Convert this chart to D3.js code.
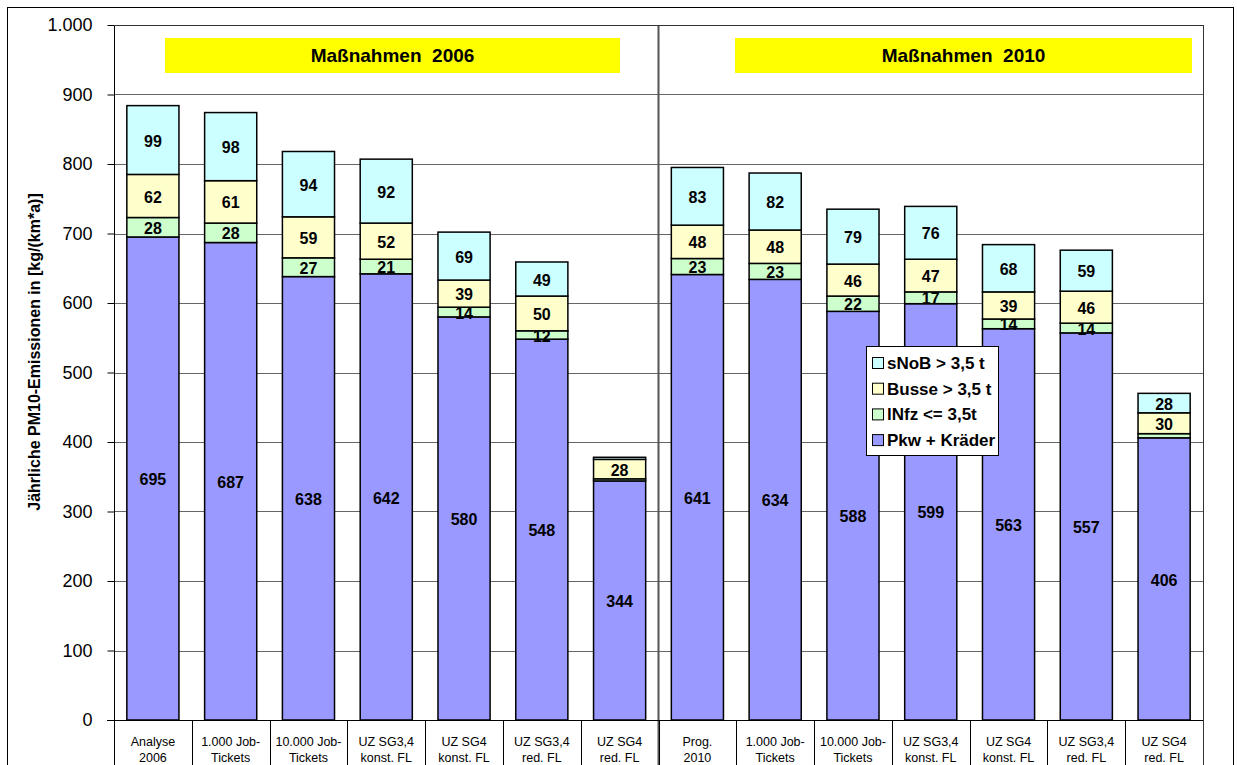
<!DOCTYPE html>
<html><head><meta charset="utf-8">
<script src="https://cdn.jsdelivr.net/npm/d3@7"></script>
<style>
body{margin:0;background:#fff}
svg{display:block}
text{font-family:Arial,"Liberation Sans",sans-serif}
</style>
</head><body>
<svg id="chart" width="1237" height="765"></svg>
<script>
// Categories (two label lines each)
const categories = [
  ["Analyse","2006"],["1.000 Job-","Tickets"],["10.000 Job-","Tickets"],["UZ SG3,4","konst. FL"],
  ["UZ SG4","konst. FL"],["UZ SG3,4","red. FL"],["UZ SG4","red. FL"],
  ["Prog.","2010"],["1.000 Job-","Tickets"],["10.000 Job-","Tickets"],["UZ SG3,4","konst. FL"],
  ["UZ SG4","konst. FL"],["UZ SG3,4","red. FL"],["UZ SG4","red. FL"]
];
// PM10 emissions by vehicle group, kg/(km*a)
const pkw   = [695, 687, 638, 642, 580, 548, 344, 641, 634, 588, 599, 563, 557, 406];
const lnfz  = [ 28,  28,  27,  21,  14,  12,   3,  23,  23,  22,  17,  14,  14,   6];
const busse = [ 62,  61,  59,  52,  39,  50,  28,  48,  48,  46,  47,  39,  46,  30];
const snob  = [ 99,  98,  94,  92,  69,  49,   3,  83,  82,  79,  76,  68,  59,  28];
const seriesNames = ["Pkw + Kräder", "lNfz <= 3,5t", "Busse > 3,5 t", "sNoB > 3,5 t"];
const seriesColors = ["#9999FF", "#CCFFCC", "#FFFFCC", "#CCFFFF"];
const yTicks = [0, 100, 200, 300, 400, 500, 600, 700, 800, 900, 1000];
const groupTitles = ["Maßnahmen  2006", "Maßnahmen  2010"];
const yTitle = "Jährliche PM10-Emissionen in [kg/(km*a)]";

const svg = d3.select("#chart");
const L = 114, R = 1203, T = 25, B = 720;

const de = d3.formatLocale({decimal: ",", thousands: ".", grouping: [3], currency: ["", " €"]});
const fmt = de.format(",d");

const keys = ["pkw", "lnfz", "busse", "snob"];
const rows = categories.map((c, i) => ({i, pkw: pkw[i], lnfz: lnfz[i], busse: busse[i], snob: snob[i]}));
const stacked = d3.stack().keys(keys)(rows);

const x = d3.scaleBand().domain(d3.range(categories.length)).range([L, R]).paddingInner(0.33).paddingOuter(0.165);
const y = d3.scaleLinear().domain([0, 1000]).range([B, T]);
const step = x.step();

// outer frame
svg.append("rect").attr("x", 7.5).attr("y", 7.5).attr("width", 1226).attr("height", 800)
  .attr("fill", "none").attr("stroke", "#000").attr("stroke-width", 1);

// gridlines
svg.append("g").selectAll("line").data(yTicks.filter(d => d > 0)).join("line")
  .attr("x1", L).attr("x2", R).attr("y1", d => Math.round(y(d)) + 0.5).attr("y2", d => Math.round(y(d)) + 0.5)
  .attr("stroke", "#666").attr("stroke-width", 1);

// right plot border and group divider
svg.append("line").attr("x1", R + 0.5).attr("x2", R + 0.5).attr("y1", T).attr("y2", 765)
  .attr("stroke", "#333").attr("stroke-width", 1);
const divX = L + step * 7;
svg.append("line").attr("x1", divX).attr("x2", divX).attr("y1", T).attr("y2", 765)
  .attr("stroke", "#555").attr("stroke-width", 2);

// group title boxes
const titleBoxes = [[165, 620], [735, 1192]];
groupTitles.forEach((t, k) => {
  const [x0, x1] = titleBoxes[k];
  svg.append("rect").attr("x", x0).attr("y", 38).attr("width", x1 - x0).attr("height", 35).attr("fill", "#FFFF00");
  svg.append("text").attr("x", (x0 + x1) / 2).attr("y", 55.5).attr("dy", "0.35em")
    .attr("text-anchor", "middle").attr("font-weight", "bold").attr("font-size", 19)
    .style("white-space", "pre").text(t);
});

// stacked bars
const layers = svg.append("g").selectAll("g").data(stacked).join("g")
  .attr("fill", (d, k) => seriesColors[k]);
layers.selectAll("rect").data(d => d).join("rect")
  .attr("x", d => x(d.data.i)).attr("width", x.bandwidth())
  .attr("y", d => y(d[1])).attr("height", d => y(d[0]) - y(d[1]))
  .attr("stroke", "#000").attr("stroke-width", 1.5);

// value labels
layers.selectAll("text").data(d => d.filter(s => s[1] - s[0] >= 10)).join("text")
  .attr("x", d => x(d.data.i) + x.bandwidth() / 2)
  .attr("y", d => (y(d[0]) + y(d[1])) / 2 + 1).attr("dy", "0.35em")
  .attr("text-anchor", "middle").attr("font-weight", "bold").attr("font-size", 16).attr("fill", "#000")
  .text(d => d[1] - d[0]);

// y axis
const yAxis = d3.axisLeft(y).tickValues(yTicks).tickFormat(fmt).tickSize(7).tickPadding(15);
const gy = svg.append("g").attr("transform", `translate(${L + 0.5},0)`).call(yAxis);
gy.select(".domain").remove();
gy.selectAll(".tick line").attr("stroke", "#000");
gy.selectAll(".tick text").attr("font-size", 18).attr("font-family", "Arial, Liberation Sans, sans-serif").attr("fill", "#000");
svg.append("line").attr("x1", L + 0.5).attr("x2", L + 0.5).attr("y1", T).attr("y2", 765).attr("stroke", "#000");
svg.append("line").attr("x1", L).attr("x2", R).attr("y1", T + 0.5).attr("y2", T + 0.5).attr("stroke", "#333");

// x axis with category separators
svg.append("line").attr("x1", L - 7).attr("x2", R).attr("y1", B + 0.5).attr("y2", B + 0.5).attr("stroke", "#000").attr("stroke-width", 1.2);
svg.append("g").selectAll("line").data(d3.range(1, categories.length)).join("line")
  .attr("x1", i => Math.round(L + step * i) + 0.5).attr("x2", i => Math.round(L + step * i) + 0.5)
  .attr("y1", B).attr("y2", 765).attr("stroke", "#000");
const xl = svg.append("g").selectAll("text").data(categories).join("text")
  .attr("x", (d, i) => x(i) + x.bandwidth() / 2).attr("text-anchor", "middle")
  .attr("font-size", 12.5).attr("fill", "#000");
xl.append("tspan").attr("x", (d, i) => x(i) + x.bandwidth() / 2).attr("y", 746).text(d => d[0]);
xl.append("tspan").attr("x", (d, i) => x(i) + x.bandwidth() / 2).attr("y", 762).text(d => d[1]);

// y axis title
svg.append("text").attr("transform", "translate(34,352) rotate(-90)").attr("dy", "0.35em")
  .attr("text-anchor", "middle").attr("font-weight", "bold").attr("font-size", 16).text(yTitle);

// legend (top series first)
const lg = svg.append("g").attr("transform", "translate(866,346)");
lg.append("rect").attr("x", 0.5).attr("y", 0.5).attr("width", 132).attr("height", 109)
  .attr("fill", "#fff").attr("stroke", "#000");
const order = [3, 2, 1, 0];
const li = lg.selectAll("g").data(order).join("g").attr("transform", (k, j) => `translate(0,${17 + j * 25.7})`);
li.append("rect").attr("x", 6.5).attr("y", -5.5).attr("width", 11).attr("height", 11)
  .attr("fill", k => seriesColors[k]).attr("stroke", "#000");
li.append("text").attr("x", 21).attr("dy", "0.35em").attr("font-weight", "bold").attr("font-size", 17)
  .text(k => seriesNames[k]);
</script>
</body></html>
